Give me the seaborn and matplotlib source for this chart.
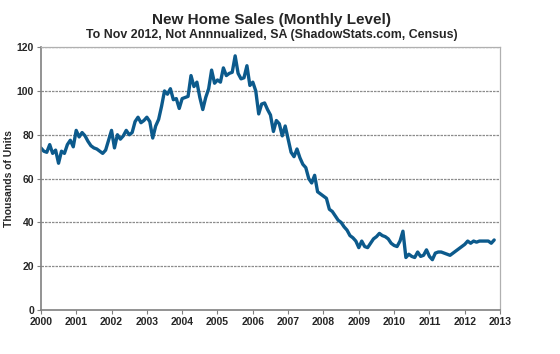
import numpy as np
import pandas as pd
import matplotlib
matplotlib.use("Agg")
import matplotlib.pyplot as plt
import seaborn as sns

# monthly new home sales, thousands of units, Jan 2000 .. Nov 2012
sales = [
    74, 72.5, 72, 75.5, 71.5, 73, 67, 72.5, 71.5, 75.5, 77.5, 74.5,      # 2000
    82, 79, 81, 79.5, 77, 75, 74, 73.5, 72.5, 71.5, 73, 77.5,            # 2001
    82, 74, 80, 78, 79.5, 82, 80, 81, 86, 88, 85.5, 86.5,                # 2002
    88, 86, 78.5, 84, 87, 93, 100, 98.5, 101, 96, 96.5, 92,              # 2003
    96.5, 97, 97.5, 107, 102, 104, 97, 91.5, 97, 101, 109.5, 103.5,      # 2004
    105, 104, 110.5, 107, 108, 108.5, 116, 108, 105.5, 106, 111.5, 102.5,  # 2005
    104, 100, 89.5, 94, 94.5, 91.5, 89, 81.5, 86.5, 85, 79.5, 84,        # 2006
    78, 72, 70, 73.5, 69.5, 66.5, 65, 60, 58, 61.5, 54, 53,              # 2007
    52, 51, 46, 45, 43, 41, 40, 38, 36.5, 34, 33, 31.5,                  # 2008
    28.5, 31.5, 29, 28.5, 30.5, 32.5, 33.5, 35, 34, 33.5, 32.5, 30.5,    # 2009
    29.5, 29, 31.5, 36, 24, 25.5, 24.5, 24, 26.5, 24.5, 25, 27.5,        # 2010
    24.5, 23, 26, 26.5, 26.5, 26, 25.5, 25, 26, 27, 28, 29,              # 2011
    30, 31.5, 30.5, 31.5, 31, 31.5, 31.5, 31.5, 31.5, 30.5, 32,          # 2012
]
years = list(range(2000, 2014))
y_ticks = [0, 20, 40, 60, 80, 100, 120]

df = pd.DataFrame({"date": 2000 + np.arange(len(sales)) / 12.0, "sales": sales})

sns.set_style("white")
plt.rcParams["font.family"] = ["Liberation Sans", "DejaVu Sans"]
plt.rcParams["font.weight"] = "bold"

fig = plt.figure(figsize=(5.6, 3.54), dpi=100)
ax = fig.add_axes([0.073, 0.124, 0.82, 0.743])

sns.lineplot(data=df, x="date", y="sales", ax=ax, color="#0c5a8c", linewidth=2.4)

ax.set_xlim(2000, 2013)
ax.set_ylim(0, 120)
ax.set_xticks(years)
ax.set_xticklabels([str(y) for y in years], fontsize=7.5, fontweight="bold")
ax.set_yticks(y_ticks)
ax.set_yticklabels([str(v) for v in y_ticks], fontsize=7.5, fontweight="bold")
ax.tick_params(axis="both", length=3, width=0.8, color="#808080", pad=2, direction="out")
ax.tick_params(axis="x", bottom=True)
ax.tick_params(axis="y", left=True)

for v in y_ticks[1:]:
    ax.axhline(v, color="#8c8c8c", linewidth=0.9, linestyle=(0, (2, 0.8)), zorder=0)

ax.set_xlabel("")
ax.set_ylabel("Thousands of Units", fontsize=7.5, fontweight="bold")
ax.yaxis.set_label_coords(-0.058, 0.5)

for s in ["left", "bottom"]:
    ax.spines[s].set_color("#808080")
    ax.spines[s].set_linewidth(1.2)
for s in ["top", "right"]:
    ax.spines[s].set_color("#b0b0b0")
    ax.spines[s].set_linewidth(0.9)
    ax.spines[s].set_linestyle((0, (2, 1)))

fig.text(0.485, 0.943, "New Home Sales (Monthly Level)", ha="center", va="center",
         fontsize=11, fontweight="bold")
fig.text(0.485, 0.902, "To Nov 2012, Not Annnualized, SA (ShadowStats.com, Census)",
         ha="center", va="center", fontsize=8.9, fontweight="bold")

fig.savefig("out.png", dpi=100)
